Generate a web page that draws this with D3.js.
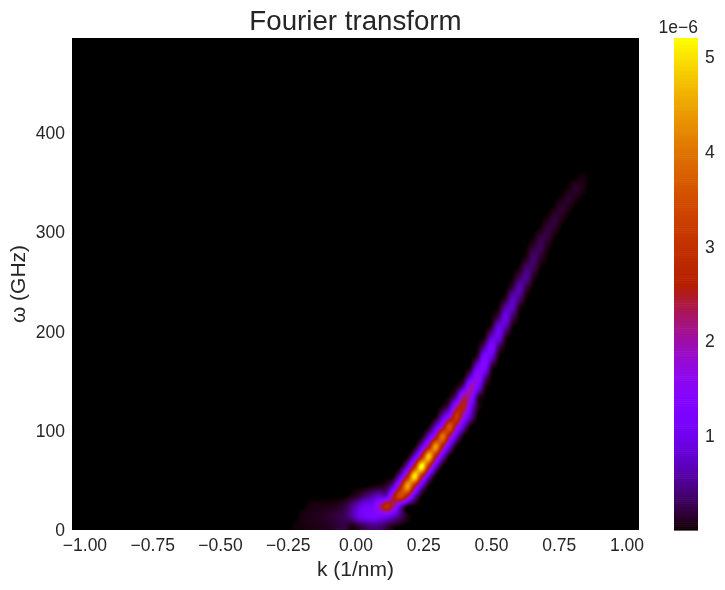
<!DOCTYPE html>
<html><head><meta charset="utf-8">
<script src="https://cdn.jsdelivr.net/npm/d3@7"></script>
<style>
html,body{margin:0;padding:0;background:#fff;width:725px;height:590px;overflow:hidden}
#wrap{position:relative;width:725px;height:590px}
canvas{position:absolute;left:72px;top:38px}
svg{position:absolute;left:0;top:0}
text{font-family:"Liberation Sans",Arial,sans-serif;fill:#262626}
</style></head><body><div id="wrap"></div>
<script>
const kTicks=[-1,-0.75,-0.5,-0.25,0,0.25,0.5,0.75,1];
const omegaTicks=[0,100,200,300,400];
const cbarTicks=[1,2,3,4,5];
const kRange=[-1.046,1.046];
const omegaRange=[0,495.7];
const cbarRange=[0.01,5.2];
const colCount=81, rowCount=50;
const kFirst=-1.0202, kStep=0.0258, omegaFirst=4, omegaStep=10;
// each row: first column index, then spectral amplitude (1e-6) of consecutive columns
const spectrumRows=[
[31,.03,.05,.07,.08,.1,.13,.2,.22,.08,.2,.35,.45,.4,.25,.08,.02],
[32,.06,.08,.1,.13,.17,.22,.3,.55,.95,1.15,1.25,1.2,1.1,.8,.4,.08],
[33,.05,.06,.07,.08,.12,.22,.45,.8,1.1,1.15,2,2.9,2.1,.85,.08],
[39,.08,.2,.4,.6,.8,.85,2.4,3.4,2.4,.8,.04],
[42,.05,.1,.2,.85,2.6,4.5,2.6,.85,.04],
[45,.04,.9,2.8,5.1,2.8,.9,.02],
[46,.04,.92,2.9,5.3,2.9,.92,.02],
[47,.04,.9,2.65,4.8,2.65,.9,.02],
[48,.04,.88,2.45,4.4,2.45,.88,.02],
[49,.04,.85,2.2,4,2.2,.82,.02],
[50,.04,.8,2,3.6,2,.78,.02],
[51,.03,.75,1.75,3.1,1.75,.7,.02],
[52,.08,.55,2.1,2.6,1.15,.18],
[53,.08,.6,2.2,1.8,.32,.02],
[54,.08,.6,2,1.25,.18],
[55,.04,.8,1.7,.62,.04],
[56,.1,1.05,1.36,.2],
[57,.24,1.32,.85,.07],
[57,.03,.55,1.29,.36,.02],
[58,.07,.77,.98,.15],
[59,.18,.96,.62,.05],
[59,.02,.33,.95,.33,.02],
[60,.06,.58,.72,.1],
[61,.12,.68,.45,.04],
[62,.22,.65,.22],
[62,.03,.32,.5,.1],
[63,.06,.38,.3,.03],
[64,.1,.37,.16,.02],
[64,.02,.2,.29,.06],
[65,.04,.23,.19,.02],
[66,.04,.21,.14,.01],
[67,.06,.2,.09],
[68,.05,.17,.07],
[69,.05,.16,.07],
[70,.045,.15,.07],
[71,.02,.05,.01]
];
const W=725,H=590,L=72,R=639,T=38,B=530,CL=674,CR=698;
const x=d3.scaleLinear().domain(kRange).range([L,R]);
const y=d3.scaleLinear().domain(omegaRange).range([B,T]);
const cy=d3.scaleLinear().domain(cbarRange).range([B,T]);
// matplotlib "gnuplot" colormap
const gnuplot=t=>{const u=Math.max(0,Math.min(1,t));
  return [Math.sqrt(u),u*u*u,Math.max(0,Math.sin(2*Math.PI*u))].map(c=>Math.round(c*255));};
const tOf=d3.scaleLinear().domain(cbarRange).range([0,1]);
const grid=d3.range(rowCount).map(()=>new Float64Array(colCount));
spectrumRows.forEach((r,j)=>r.slice(1).forEach((v,i)=>{grid[j][r[0]+i]=v;}));
// bicubic (Catmull-Rom) interpolation, as in imshow(interpolation="bicubic")
const cub=(a,b,c,d,t)=>b+.5*t*(c-a+t*(2*a-5*b+4*c-d+t*(3*(b-c)+d-a)));
const at=(j,i)=>grid[Math.max(0,Math.min(rowCount-1,j))][Math.max(0,Math.min(colCount-1,i))];
const sample=(k,w)=>{
  const fx=(k-kFirst)/kStep, fy=(w-omegaFirst)/omegaStep;
  const i=Math.floor(fx),j=Math.floor(fy),a=fx-i,b=fy-j;
  const r=[-1,0,1,2].map(dj=>cub(at(j+dj,i-1),at(j+dj,i),at(j+dj,i+1),at(j+dj,i+2),a));
  return cub(r[0],r[1],r[2],r[3],b);
};
const wrap=d3.select("#wrap");
const cv=wrap.append("canvas").attr("width",R-L).attr("height",B-T).node();
const ctx=cv.getContext("2d");
const img=ctx.createImageData(R-L,B-T);
for(let py=0;py<B-T;py++)for(let px=0;px<R-L;px++){
  const c=gnuplot(tOf(sample(x.invert(L+px+.5),y.invert(T+py+.5))));
  const o=(py*(R-L)+px)*4;img.data[o]=c[0];img.data[o+1]=c[1];img.data[o+2]=c[2];img.data[o+3]=255;
}
ctx.putImageData(img,0,0);
const svg=wrap.append("svg").attr("width",W).attr("height",H);
const gx=svg.append("g").attr("transform",`translate(0,${B})`)
  .call(d3.axisBottom(x).tickValues(kTicks).tickSize(0).tickPadding(9).tickFormat(d=>d3.format(".2f")(d).replace("-","\u2212")));
const gy=svg.append("g").attr("transform",`translate(${L},0)`)
  .call(d3.axisLeft(y).tickValues(omegaTicks).tickSize(0).tickPadding(7).tickFormat(d3.format("d")));
const steps=d3.range(256);
svg.append("g").selectAll("rect").data(steps).join("rect")
  .attr("x",CL).attr("width",CR-CL)
  .attr("y",d=>cy(cbarRange[0]+(d+1)/256*(cbarRange[1]-cbarRange[0])))
  .attr("height",(B-T)/256+.6)
  .attr("fill",d=>{const c=gnuplot((d+.5)/256);return `rgb(${c})`;});
const gc=svg.append("g").attr("transform",`translate(${CR},0)`)
  .call(d3.axisRight(cy).tickValues(cbarTicks).tickSize(0).tickPadding(7).tickFormat(d3.format("d")));
[gx,gy,gc].forEach(g=>{g.select(".domain").remove();
  g.selectAll("text").attr("font-size",17.5).style("font-family",'"Liberation Sans",Arial,sans-serif').attr("fill","#262626");});
svg.append("text").attr("x",(L+R)/2).attr("y",30).attr("text-anchor","middle").attr("font-size",27.7).text("Fourier transform");
svg.append("text").attr("x",(L+R)/2).attr("y",576).attr("text-anchor","middle").attr("font-size",21).text("k (1/nm)");
svg.append("text").attr("transform",`translate(25,284) rotate(-90)`).attr("text-anchor","middle").attr("font-size",21).text("\u03c9 (GHz)");
svg.append("text").attr("x",CR).attr("y",33).attr("text-anchor","end").attr("font-size",17.5).text("1e\u22126");
</script></body></html>
